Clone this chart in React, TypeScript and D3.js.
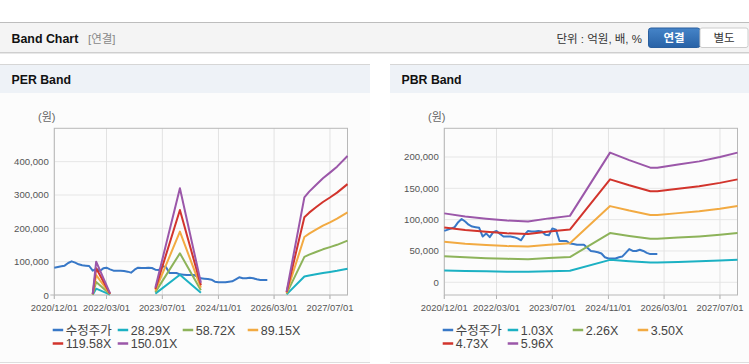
import React from 'react';
import * as d3 from 'd3';

const parseDate = d3.timeParse('%Y/%m/%d');

// x axis
const xTickDates = ['2020/12/01', '2022/03/01', '2023/07/01', '2024/11/01', '2026/03/01', '2027/07/01'];
const xStartDate = '2020/12/01';
const xEndDate = '2027/12/01';

// 수정주가 (monthly, 2020/12 ~ 2026/01)
const priceDates = d3.timeMonth.range(new Date(2020, 11, 1), new Date(2026, 1, 1));
const priceValues = [
  82000, 84000, 86000, 88000, 96000, 101000, 97000, 92000, 89000, 88000,
  87000, 73000, 78000, 72000, 80000, 82000, 77000, 73000, 73000, 73000,
  72000, 70000, 67000, 76000, 82000, 81000, 81000, 82000, 81000, 76000,
  75000, 86000, 84000, 66000, 66000, 66000, 62000, 61000, 60000, 60000,
  60000, 55000, 50000, 49000, 48000, 46000, 40000, 38000, 38000, 38000,
  40000, 41000, 47000, 53000, 50000, 50000, 52000, 50000, 47000, 45000,
  45000, 45000,
];

// PER band (null = gap)
const perBandDates = [
  '2021/11/01', '2021/12/01', '2022/04/01', '2022/10/01',
  '2023/05/01', '2023/12/01', '2024/06/01', '2025/06/01',
  '2026/06/18', '2026/11/20', '2027/01/01', '2027/03/01', '2027/05/01', '2027/07/01', '2027/09/01', '2027/12/01',
];
const per28 = [600, 19000, 1000, null, 4100, 60500, 7000, null, 2000, 55500, 58500, 62000, 66000, 69000, 72500, 78500];
const per58 = [1200, 39000, 2000, null, 8600, 125000, 14500, null, 4000, 114500, 121000, 129000, 137000, 143500, 150500, 163000];
const per89 = [1800, 59500, 3000, null, 13000, 190000, 22000, null, 6000, 174000, 184000, 196000, 208000, 218000, 229000, 248000];
const per119 = [2400, 80000, 4000, null, 17500, 255000, 29500, null, 8000, 233500, 247000, 263000, 279000, 292500, 307000, 332500];
const per150 = [3000, 100000, 5000, null, 22000, 320000, 37000, null, 10000, 293000, 310000, 330000, 350000, 367000, 385000, 417000];
const perLabels = ['수정주가', '28.29X', '58.72X', '89.15X', '119.58X', '150.01X'];
const perYTicks = [0, 100000, 200000, 300000, 400000];

// PBR band
const pbrBandDates = [
  '2020/12/01', '2021/06/01', '2021/12/01', '2022/06/01', '2022/12/01', '2023/06/01', '2023/12/01',
  '2024/11/15', '2025/05/01', '2025/11/01', '2026/01/01', '2026/07/01', '2027/01/01', '2027/07/01', '2027/12/01',
];
const pbr103 = [19000, 18100, 17500, 17000, 16800, 17600, 18300, 35800, 33700, 31600, 31600, 32500, 33400, 34600, 35800];
const pbr226 = [41700, 39800, 38500, 37400, 36800, 38700, 40200, 78500, 73900, 69400, 69400, 71300, 73200, 75800, 78500];
const pbr350 = [64600, 61700, 59600, 57800, 57000, 59900, 62200, 121600, 114500, 107500, 107500, 110400, 113300, 117400, 121600];
const pbr473 = [87300, 83300, 80500, 78200, 77000, 80900, 84100, 164300, 154800, 145200, 145200, 149200, 153200, 158700, 164300];
const pbr596 = [110000, 105000, 101500, 98500, 97000, 102000, 106000, 207000, 195000, 183000, 183000, 188000, 193000, 200000, 207000];
const pbrLabels = ['수정주가', '1.03X', '2.26X', '3.50X', '4.73X', '5.96X'];
const pbrYTicks = [0, 50000, 100000, 150000, 200000];

const colors = ['#3878c7', '#1cb1c3', '#8db35a', '#f2aa42', '#d2342c', '#9b57a9'];

const latin = '"Liberation Sans", Arial, "Noto Sans CJK KR", sans-serif';
const korean = '"Liberation Sans", "Noto Sans CJK KR", sans-serif';

interface Line { dates: Date[]; values: (number | null)[] }

interface BandProps {
  x: number;
  width: number;
  title: string;
  lines: Line[];
  labels: string[];
  yDomain: [number, number];
  yTicks: number[];
  extendZero: boolean;
}

const plot = { left: 54.3, right: 347.5, top: 128.3, bottom: 295 };

const BandChart: React.FC<BandProps> = ({ x, width, title, lines, labels, yDomain, yTicks, extendZero }) => {
  const xs = d3.scaleTime()
    .domain([parseDate(xStartDate)!, parseDate(xEndDate)!])
    .range([plot.left, plot.right]);
  const ys = d3.scaleLinear().domain(yDomain).range([plot.bottom, plot.top]);
  const line = d3.line<[Date, number | null]>()
    .defined(d => d[1] != null)
    .x(d => xs(d[0]))
    .y(d => ys(d[1] as number));
  const fmt = d3.format(',');

  return (
    <g transform={`translate(${x},0)`}>
      <rect x={0} y={64} width={width} height={299} fill="#fcfcfc" />
      <rect x={0} y={64.5} width={width} height={28.5} fill="#eef2f7" />
      <line x1={0} x2={width} y1={64.5} y2={64.5} stroke="#d6d6d6" />
      <line x1={0} x2={width} y1={362.5} y2={362.5} stroke="#dedede" />
      <text x={11.5} y={84} fontFamily={latin} fontWeight="bold" fontSize={12.3} fill="#111">{title}</text>
      <text x={38} y={121} fontFamily={korean} fontSize={11} fill="#666">(원)</text>

      {/* grid */}
      {yTicks.map(t => (
        <line key={'g' + t} x1={plot.left} x2={plot.right} y1={ys(t)} y2={ys(t)} stroke="#e6e6e6" />
      ))}
      {xTickDates.map(t => (
        <line key={'v' + t} x1={xs(parseDate(t)!)} x2={xs(parseDate(t)!)} y1={plot.top} y2={plot.bottom + 4} stroke="#e2e2e2" />
      ))}
      {xTickDates.map(t => (
        <line key={'tk' + t} x1={xs(parseDate(t)!)} x2={xs(parseDate(t)!)} y1={plot.bottom} y2={plot.bottom + 4} stroke="#b5b5b5" />
      ))}
      <rect x={plot.left} y={plot.top} width={plot.right - plot.left} height={plot.bottom - plot.top}
        fill="none" stroke="#b8b8b8" />
      {extendZero && <line x1={plot.left - 4} x2={plot.left} y1={plot.bottom} y2={plot.bottom} stroke="#b8b8b8" />}

      {/* tick labels */}
      {yTicks.map(t => (
        <text key={'yl' + t} x={plot.left - 5.5} y={ys(t) + 3.5} textAnchor="end"
          fontFamily={latin} fontSize={9.6} fill="#555">{fmt(t)}</text>
      ))}
      {xTickDates.map(t => (
        <text key={'xl' + t} x={xs(parseDate(t)!)} y={310.5} textAnchor="middle"
          fontFamily={latin} fontSize={9.4} fill="#555">{t}</text>
      ))}

      {/* series */}
      {lines.map((l, i) => (
        <path key={'s' + i}
          d={line(l.dates.map((d, j) => [d, l.values[j]] as [Date, number | null])) || ''}
          fill="none" stroke={colors[i]} strokeWidth={2} strokeLinejoin="round" />
      ))}

      {/* legend */}
      {labels.map((lab, i) => {
        const lx = 52.7 + (i % 4) * 65;
        const ly = 330 + Math.floor(i / 4) * 13.5;
        return (
          <g key={'lg' + i}>
            <line x1={lx} x2={lx + 10.5} y1={ly} y2={ly} stroke={colors[i]} strokeWidth={2.5} />
            <text x={lx + 13} y={ly + 4.5} fontFamily={korean} fontSize={12.5} fill="#444">{lab}</text>
          </g>
        );
      })}
    </g>
  );
};

const App: React.FC = () => {
  const price: Line = { dates: priceDates, values: priceValues };
  const perD = perBandDates.map(d => parseDate(d)!);
  const pbrD = pbrBandDates.map(d => parseDate(d)!);
  const perLines: Line[] = [price, ...[per28, per58, per89, per119, per150].map(v => ({ dates: perD, values: v }))];
  const pbrLines: Line[] = [price, ...[pbr103, pbr226, pbr350, pbr473, pbr596].map(v => ({ dates: pbrD, values: v }))];

  return (
    <svg width={749} height={364} style={{ position: 'absolute', left: 0, top: 0, background: '#fff' }}>
      <defs>
        <linearGradient id="btn" x1="0" y1="0" x2="0" y2="1">
          <stop offset="0" stopColor="#4584c8" />
          <stop offset="1" stopColor="#2862a6" />
        </linearGradient>
      </defs>
      {/* header */}
      <rect x={0} y={22.5} width={749} height={30} fill="#f4f4f4" />
      <line x1={0} x2={749} y1={22.5} y2={22.5} stroke="#bdbdbd" />
      <line x1={0} x2={749} y1={52.5} y2={52.5} stroke="#cfcfcf" />
      <line x1={0} x2={749} y1={53.5} y2={53.5} stroke="#e8e8e8" />
      <text x={11.5} y={42.5} fontFamily={latin} fontWeight="bold" fontSize={12.4} fill="#111">Band Chart</text>
      <text x={88} y={42.5} fontFamily={korean} fontSize={11.5} fill="#888">[연결]</text>
      <text x={642} y={42.5} textAnchor="end" fontFamily={korean} fontSize={11.5} fill="#333">단위 : 억원, 배, %</text>
      <rect x={648.5} y={28} width={51.5} height={19.5} rx={2.5} fill="url(#btn)" stroke="#2a5f9e" />
      <text x={674} y={42} textAnchor="middle" fontFamily={korean} fontWeight="bold" fontSize={11.5} fill="#fff">연결</text>
      <rect x={700} y={28} width={48} height={19.5} rx={2} fill="#fff" stroke="#cccccc" />
      <text x={724} y={42} textAnchor="middle" fontFamily={korean} fontSize={11.5} fill="#333">별도</text>

      <BandChart x={0} width={370} title="PER Band" lines={perLines} labels={perLabels}
        yDomain={[0, 500000]} yTicks={perYTicks} extendZero={true} />
      <BandChart x={390} width={359} title="PBR Band" lines={pbrLines} labels={pbrLabels}
        yDomain={[-20300, 245800]} yTicks={pbrYTicks} extendZero={false} />
    </svg>
  );
};

export default App;
